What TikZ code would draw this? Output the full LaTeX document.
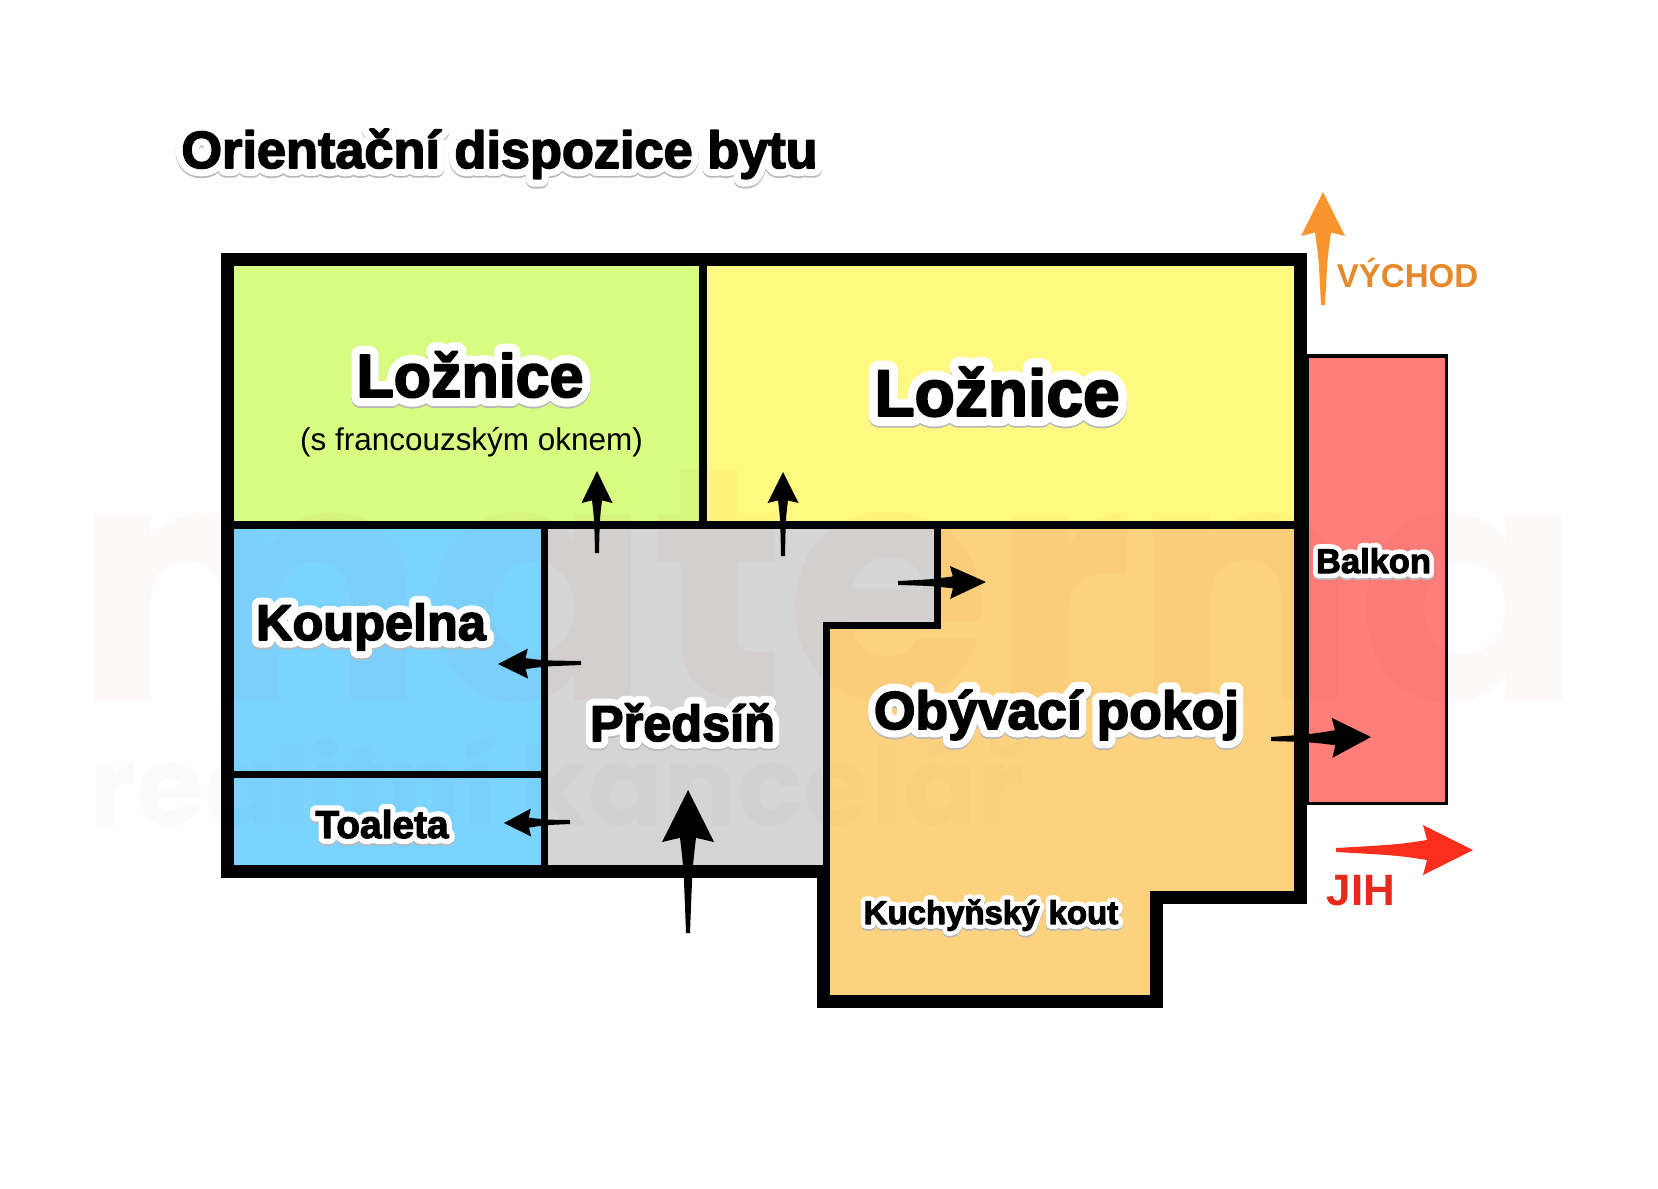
\documentclass[tikz,border=0pt]{standalone}
\usepackage{fontspec}
\usepackage{xcolor}
\usetikzlibrary{calc}

\setmainfont{Liberation Sans}
\newfontfamily\labelfont{Liberation Sans Bold}
\newfontfamily\markfont{Poppins}

\definecolor{bedgreen}{HTML}{D8FB82}
\definecolor{bedyellow}{HTML}{FFF981}
\definecolor{bathblue}{HTML}{7BD4FF}
\definecolor{hallgray}{HTML}{D5D5D5}
\definecolor{livingorange}{HTML}{FDD27E}
\definecolor{balconyred}{HTML}{FF7E7A}
\definecolor{eastorange}{HTML}{F9952F}
\definecolor{southred}{HTML}{FB2E1D}
\definecolor{markred}{HTML}{C80000}

\newlength{\px}
\setlength{\px}{0.2mm}

\makeatletter
\newcommand{\outlineon}[2]{\special{pdf:code 2 Tr #1 RG #1 rg \strip@pt\dimexpr#2em\relax\space w 1 j 1 J}}
\makeatother
\newcommand{\outlineoff}{\special{pdf:code 0 Tr 0 0 0 RG 0 0 0 rg 1 w 0 j 0 J}}
\newcommand{\halotxt}[1]{%
	\leavevmode\labelfont
	\rlap{\raisebox{-1.8\px}{\outlineon{0.72 0.72 0.72}{0.3}#1\outlineoff}}%
	\rlap{\outlineon{1 1 1}{0.3}#1\outlineoff}%
	\outlineon{0 0 0}{0.03}#1\outlineoff}

% tail, tip, head length, head half width, neck half width
\newcommand{\taperarrow}[6][black]{%
	\fill[#1]
	($(#2)!2\px!90:(#3)$)
	.. controls ($(#3)!#4*1.5*\px!(#2)!#6*0.55*\px!90:(#3)$) .. ($(#3)!#4*0.92*\px!(#2)!#6*\px!90:(#3)$)
	-- ($(#3)!#4*\px!(#2)!#5*\px!90:(#3)$)
	-- (#3)
	-- ($(#3)!#4*\px!(#2)!#5*\px!-90:(#3)$)
	-- ($(#3)!#4*0.92*\px!(#2)!#6*\px!-90:(#3)$)
	.. controls ($(#3)!#4*1.5*\px!(#2)!#6*0.55*\px!-90:(#3)$) .. ($(#2)!2\px!-90:(#3)$)
	-- cycle;}

\begin{document}
\begin{tikzpicture}[x=0.2mm, y=-0.2mm, fs/.style={font=\fontsize{#1}{#1}\selectfont}]
	\tikzstyle{room} = [anchor=base, inner sep=0pt]
	\tikzstyle{wall} = [draw=black, line width=13*\px, line join=miter]
	\tikzstyle{thinwall} = [draw=black, line width=7.5*\px, line join=miter]

	\useasboundingbox (0,0) rectangle (1658,1188);

	% rooms
	\fill[bedgreen] (234,266) rectangle (699,521);
	\fill[bedyellow] (707,266) rectangle (1294,521);
	\fill[bathblue] (234,529) rectangle (541,865);
	\fill[hallgray] (548,529) -- (934,529) -- (934,622) -- (823,622) -- (823,865) -- (548,865) -- cycle;
	\fill[livingorange] (941,529) -- (1294,529) -- (1294,891) -- (1150,891) -- (1150,995) -- (830,995) -- (830,629) -- (941,629) -- cycle;
	\draw[fill=balconyred, line width=3.5*\px] (1307,356) rectangle (1446.5,803.5);

	\node[anchor=base west, inner sep=0pt, text=markred, text opacity=0.022, fs=189] (mark) at (74,700) {\markfont\bfseries materna};
	\node[anchor=base west, inner sep=0pt, text=black, text opacity=0.016, fs=62.5] (office) at (89,825) {\markfont\bfseries realitní kancelář};

	% walls
	\path[wall] (227.5,259.5) -- (1300.5,259.5) -- (1300.5,897) -- (1156.5,897) -- (1156.5,1001)
		-- (823.5,1001) -- (823.5,871) -- (227.5,871) -- cycle;
	\path[thinwall] (703,266) -- (703,525);
	\path[thinwall] (234,525) -- (1294,525);
	\path[thinwall] (544.5,529) -- (544.5,865);
	\path[thinwall] (234,774.5) -- (541,774.5);
	\path[thinwall] (937.5,529) -- (937.5,625.5) -- (826.5,625.5) -- (826.5,871);

	% arrows
	\coordinate (bedAtail) at (597,553);
	\coordinate (bedAtip) at (597,471);
	\coordinate (bedBtail) at (783,556);
	\coordinate (bedBtip) at (783,472);
	\coordinate (livtail) at (898,583);
	\coordinate (livtip) at (986,582);
	\coordinate (bathtail) at (581,663);
	\coordinate (bathtip) at (498,664);
	\coordinate (wctail) at (570,822);
	\coordinate (wctip) at (504,823);
	\coordinate (doortail) at (688,933);
	\coordinate (doortip) at (688,790);
	\coordinate (baltail) at (1271,739);
	\coordinate (baltip) at (1371,737);
	\coordinate (easttail) at (1323,305);
	\coordinate (easttip) at (1323,192);
	\coordinate (southtail) at (1336,850);
	\coordinate (southtip) at (1473,850);

	\taperarrow{bedAtail}{bedAtip}{32}{15.5}{5}
	\taperarrow{bedBtail}{bedBtip}{31}{15.5}{5}
	\taperarrow{livtail}{livtip}{36}{16.5}{6}
	\taperarrow{bathtail}{bathtip}{30}{15}{5.5}
	\taperarrow{wctail}{wctip}{27}{14}{5}
	\taperarrow{doortail}{doortip}{52}{26}{8}
	\taperarrow{baltail}{baltip}{39}{20}{7.5}
	\taperarrow[eastorange]{easttail}{easttip}{44}{22}{8}
	\taperarrow[southred]{southtail}{southtip}{50}{25}{10}

	% labels
	\node[room, fs=29.75] (title) at (499.5,168) {\halotxt{Orientační dispozice bytu}};
	\node[room, fs=34.7] (bedA) at (470,397) {\halotxt{Ložnice}};
	\node[room, fs=17.9] (bedAnote) at (471.5,450) {(s francouzským oknem)};
	\node[room, fs=37.5] (bedB) at (997,416) {\halotxt{Ložnice}};
	\node[room, fs=28.7] (bath) at (371,640) {\halotxt{Koupelna}};
	\node[room, fs=22.1] (wc) at (382,838) {\halotxt{Toaleta}};
	\node[room, fs=28.7] (hall) at (682.5,741) {\halotxt{Předsíň}};
	\node[room, fs=30.4] (living) at (1056.5,729) {\halotxt{Obývací pokoj}};
	\node[room, fs=18.75] (kitchen) at (991,924) {\halotxt{Kuchyňský kout}};
	\node[room, fs=19.6] (balcony) at (1373.5,573) {\halotxt{Balkon}};
	\node[room, fs=18.8, text=eastorange!92!black] (east) at (1407.5,287) {\bfseries VÝCHOD};
	\node[room, fs=25, text=southred!92!black] (south) at (1361,905) {\bfseries JIH};
\end{tikzpicture}
\end{document}
